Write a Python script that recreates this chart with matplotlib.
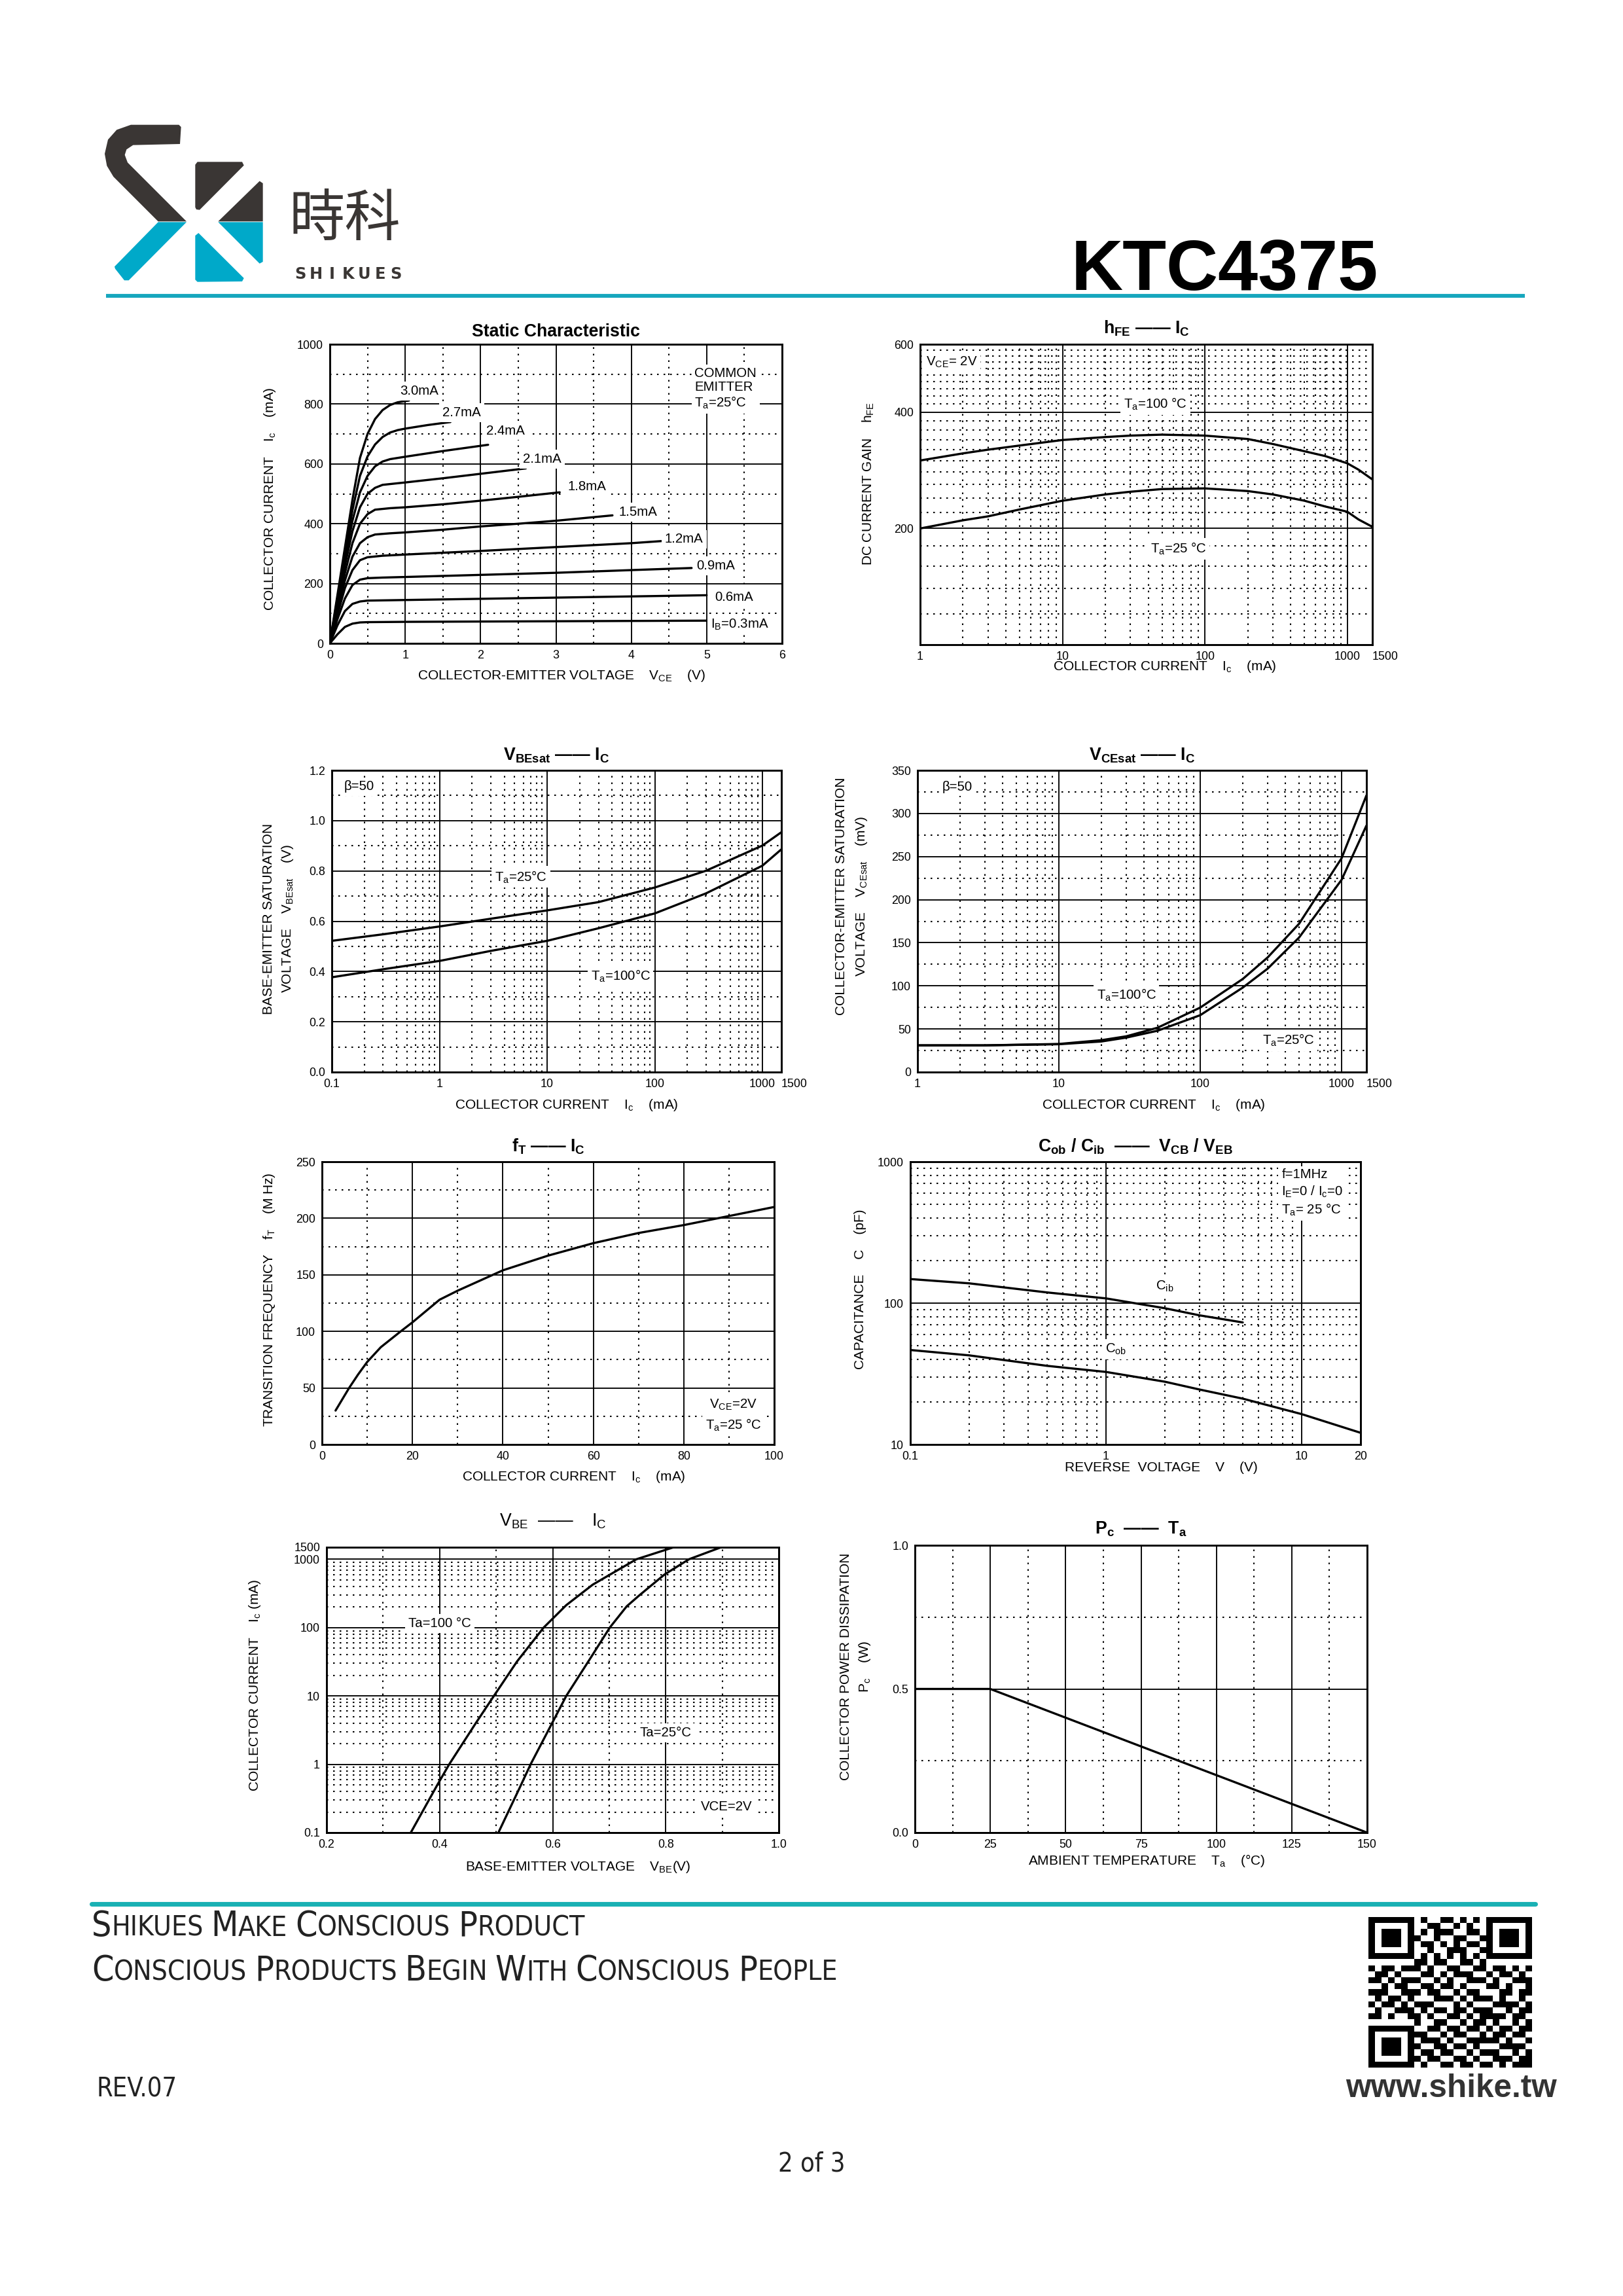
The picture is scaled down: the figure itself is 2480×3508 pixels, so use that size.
import numpy as np
import matplotlib
matplotlib.use('Agg')
import matplotlib.pyplot as plt
from matplotlib import font_manager
from matplotlib.patches import Polygon
from matplotlib.ticker import FixedLocator, FixedFormatter, NullFormatter

W, H, DPI = 2480, 3508, 300

# ======================= DATA =======================
# Static characteristic (common emitter, Ta = 25 C)
static_labels = ['3.0mA', '2.7mA', '2.4mA', '2.1mA', '1.8mA', '1.5mA', '1.2mA',
                 '0.9mA', '0.6mA', r'I$_{\rm B}$=0.3mA']
static_vce = [
    [0, 0.1, 0.2, 0.3, 0.4, 0.5, 0.6, 0.7, 0.8, 0.9, 1.05],
    [0, 0.1, 0.2, 0.3, 0.4, 0.5, 0.6, 0.7, 0.8, 0.9, 1.0, 1.3, 1.6],
    [0, 0.1, 0.2, 0.3, 0.4, 0.5, 0.6, 0.7, 0.8, 1.0, 1.5, 2.1],
    [0, 0.1, 0.2, 0.3, 0.4, 0.5, 0.6, 0.7, 1.0, 1.5, 2.0, 2.6],
    [0, 0.1, 0.2, 0.3, 0.4, 0.5, 0.6, 0.8, 1.0, 1.5, 2.0, 2.5, 3.05],
    [0, 0.1, 0.2, 0.3, 0.4, 0.5, 0.6, 0.8, 1.0, 1.5, 2.0, 2.5, 3.0, 3.75],
    [0, 0.1, 0.2, 0.3, 0.4, 0.5, 0.7, 1.0, 2.0, 3.0, 4.0, 4.4],
    [0, 0.1, 0.2, 0.3, 0.4, 0.5, 0.7, 1.0, 2.0, 3.0, 4.0, 4.8],
    [0, 0.1, 0.2, 0.3, 0.4, 0.5, 1.0, 2.0, 3.0, 4.0, 5.0],
    [0, 0.1, 0.2, 0.3, 0.4, 0.5, 1.0, 2.0, 3.0, 4.0, 5.0],
]
static_ic = [
    [0, 160, 320, 480, 620, 700, 750, 780, 797, 806, 812],
    [0, 150, 300, 445, 560, 625, 665, 690, 705, 713, 718, 730, 740],
    [0, 140, 280, 410, 505, 560, 592, 608, 616, 624, 643, 664],
    [0, 130, 260, 375, 455, 500, 520, 530, 538, 552, 567, 585],
    [0, 120, 235, 335, 400, 432, 447, 452, 455, 465, 477, 490, 505],
    [0, 105, 210, 290, 335, 355, 364, 368, 371, 380, 391, 400, 410, 428],
    [0, 95, 185, 245, 278, 288, 293, 297, 309, 322, 335, 342],
    [0, 80, 150, 195, 213, 218, 220, 222, 229, 236, 245, 252],
    [0, 60, 108, 132, 140, 143, 145, 149, 153, 157, 161],
    [0, 30, 55, 66, 70, 71, 72, 73, 74, 75, 76],
]

# hFE - Ic  (VCE = 2V)
hfe_ic = [1, 2, 3, 5, 10, 20, 30, 50, 100, 200, 300, 500, 700, 1000, 1200, 1500]
hfe_100c = [300, 313, 320, 328, 339, 345, 348, 350, 348, 341, 331, 317, 308, 295, 284, 268]
hfe_25c = [200, 210, 215, 224, 236, 245, 249, 253, 254, 250, 245, 236, 228, 221, 211, 202]

# VBEsat - Ic (beta = 50)
vbesat_ic = [0.1, 0.3, 1, 3, 10, 30, 100, 300, 1000, 1500]
vbesat_25c = [0.522, 0.548, 0.579, 0.610, 0.643, 0.676, 0.734, 0.801, 0.901, 0.954]
vbesat_100c = [0.377, 0.409, 0.442, 0.482, 0.522, 0.572, 0.631, 0.711, 0.821, 0.886]

# VCEsat - Ic (beta = 50), mV
vcesat_ic = [1, 3, 10, 20, 30, 50, 100, 200, 300, 500, 1000, 1500]
vcesat_100c = [31, 31, 32.6, 37, 41.5, 51.5, 74.8, 108, 133, 172, 248, 321]
vcesat_25c = [31, 31, 32.3, 35.5, 40, 48, 66, 98, 120, 156, 223, 286]

# fT - Ic (VCE = 2V, Ta = 25C)
ft_ic = [3, 6, 8, 10, 13, 17.4, 20, 26, 30, 40, 50, 60, 70, 80, 90, 100]
ft_mhz = [30, 50, 62, 73, 86, 100, 108, 128, 136, 154, 167, 178, 187, 194, 202, 210]

# Cob / Cib - V
cib_v = [0.1, 0.2, 0.5, 1, 2, 3, 5]
cib_pf = [148, 138, 119, 108, 92, 82, 73]
cob_v = [0.1, 0.2, 0.5, 1, 2, 3, 5, 10, 20]
cob_pf = [46.6, 42.7, 36.0, 32.6, 27.8, 24.5, 21.1, 16.4, 12.1]

# VBE - Ic (VCE = 2V)
vbe_100c_v = [0.349, 0.396, 0.417, 0.464, 0.496, 0.537, 0.584, 0.624, 0.671, 0.704, 0.748, 0.814]
vbe_100c_ic = [0.1, 0.5, 1, 4, 10, 32, 100, 213, 426, 614, 1000, 1500]
vbe_25c_v = [0.504, 0.542, 0.561, 0.599, 0.624, 0.668, 0.701, 0.731, 0.754, 0.798, 0.841, 0.898]
vbe_25c_ic = [0.1, 0.46, 1, 4, 10, 37, 100, 205, 300, 600, 1000, 1500]

# Pc - Ta
pc_ta = [0, 25, 150]
pc_w = [0.5, 0.5, 0.0]

# Tick labels
static_xticks = [0, 1, 2, 3, 4, 5, 6]
static_yticks = [0, 200, 400, 600, 800, 1000]
hfe_xticks = [1, 10, 100, 1000, 1500]
hfe_yticks = [200, 400, 600]
sat_xticks_be = [0.1, 1, 10, 100, 1000, 1500]
sat_yticks_be = [0.0, 0.2, 0.4, 0.6, 0.8, 1.0, 1.2]
sat_xticks_ce = [1, 10, 100, 1000, 1500]
sat_yticks_ce = [0, 50, 100, 150, 200, 250, 300, 350]
ft_xticks = [0, 20, 40, 60, 80, 100]
ft_yticks = [0, 50, 100, 150, 200, 250]
cap_xticks = [0.1, 1, 10, 20]
cap_yticks = [10, 100, 1000]
vbe_xticks = [0.2, 0.4, 0.6, 0.8, 1.0]
vbe_yticks = [0.1, 1, 10, 100, 1000, 1500]
pc_xticks = [0, 25, 50, 75, 100, 125, 150]
pc_yticks = [0.0, 0.5, 1.0]

# ======================= FONTS =======================
names = {f.name for f in font_manager.fontManager.ttflist}
SANS = 'Liberation Sans' if 'Liberation Sans' in names else 'DejaVu Sans'
NARROW = 'Liberation Sans Narrow' if 'Liberation Sans Narrow' in names else None
plt.rcParams['font.family'] = [SANS, 'DejaVu Sans']
plt.rcParams['mathtext.fontset'] = 'custom'
plt.rcParams['mathtext.rm'] = SANS
plt.rcParams['mathtext.it'] = SANS + ':italic'
plt.rcParams['mathtext.bf'] = SANS + ':bold'
plt.rcParams['mathtext.sf'] = SANS
plt.rcParams['mathtext.default'] = 'rm'

TICK_FS = 4.3
LABEL_FS = 5.0
TITLE_FS = 6.4
ANN_FS = 4.9

fig = plt.figure(figsize=(W / DPI, H / DPI), dpi=DPI)
page = fig.add_axes([0, 0, 1, 1])
page.set_xlim(0, W)
page.set_ylim(H, 0)
page.axis('off')

# ======================= HEADER =======================
DARK = '#3a3634'


def lg(pts):
    return [(140 + x / 3.0, 170 + y / 3.0) for x, y in pts]


BLUE = '#00a9c9'
logo_shapes = [
    (DARK, [(410, 72), (405, 150), (190, 155), (160, 175), (152, 200), (165, 235),
            (435, 505), (305, 505), (100, 300), (70, 250), (60, 195), (75, 130),
            (115, 85), (180, 62), (400, 62)]),
    (BLUE, [(305, 508), (435, 508), (170, 775), (150, 775), (108, 722), (105, 712)]),
    (DARK, [(475, 245), (485, 232), (690, 232), (698, 248), (495, 452), (480, 450), (475, 440)]),
    (DARK, [(580, 505), (770, 320), (785, 330), (785, 505)]),
    (BLUE, [(580, 508), (785, 508), (785, 690), (770, 698)]),
    (BLUE, [(475, 570), (490, 558), (698, 765), (690, 780), (485, 782), (475, 772)]),
]
for col, pts in logo_shapes:
    page.add_patch(Polygon(lg(pts), closed=True, fc=col, ec='none'))

page.text(527, 336, '時科', fontsize=20.5, color=DARK, ha='center', va='center',
          family=['Noto Sans CJK TC', 'Noto Sans CJK SC', 'DejaVu Sans'])
for i, ch in enumerate('SHIKUES'):
    page.text(459 + i * 24.3, 426, ch, fontsize=5.8, fontweight='bold', color=DARK,
              ha='center', va='baseline', family=['DejaVu Sans'])

if NARROW:
    page.text(1640, 443, 'KTC4375', fontsize=31, fontweight='bold', color='black',
              ha='left', va='baseline', family=[NARROW, SANS])
else:
    page.text(1637, 443, 'KTC4375', fontsize=26.3, fontweight='bold', color='black',
              ha='left', va='baseline')
page.plot([162, 2330], [452, 452], color='#16a6bd', lw=1.4, solid_capstyle='butt')

# ======================= CHART HELPERS =======================
SOLID = dict(color='black', linewidth=0.45, linestyle='-')
DOT = dict(color='black', linewidth=0.5, linestyle=(0, (1.2, 3.6)))
CURVE = dict(color='black', lw=0.8, solid_capstyle='round', solid_joinstyle='round')
WHITE = dict(fc='white', ec='none', pad=1.2)


def make_axes(box):
    L, T, R, B = box
    ax = fig.add_axes([L / W, 1 - B / H, (R - L) / W, (B - T) / H])
    for s in ax.spines.values():
        s.set_linewidth(0.7)
        s.set_color('black')
        s.set_zorder(5)
    ax.tick_params(which='both', length=0, labelsize=TICK_FS, pad=2.4, colors='black')
    ax.set_axisbelow(True)
    return ax


def set_ticks(ax, xt, yt, xlab=None, ylab=None):
    ax.xaxis.set_major_locator(FixedLocator(xt))
    ax.yaxis.set_major_locator(FixedLocator(yt))
    ax.xaxis.set_major_formatter(FixedFormatter(xlab if xlab else [f'{v:g}' for v in xt]))
    ax.yaxis.set_major_formatter(FixedFormatter(ylab if ylab else [f'{v:g}' for v in yt]))
    ax.xaxis.set_minor_formatter(NullFormatter())
    ax.yaxis.set_minor_formatter(NullFormatter())


def last_xlabel_left(ax):
    ticks = ax.xaxis.get_major_ticks()
    ticks[-1].label1.set_horizontalalignment('left')
    ticks[-1].label1.set_x(ticks[-1].label1.get_position()[0])


def grid_lines(ax, xminor=None, yminor=None):
    if xminor is not None:
        ax.xaxis.set_minor_locator(FixedLocator(xminor))
    if yminor is not None:
        ax.yaxis.set_minor_locator(FixedLocator(yminor))
    ax.grid(which='major', **SOLID)
    ax.grid(which='minor', **DOT)


def decor(box, title, xlabel, ylabel, t_dy=12, x_dy=50, x_dx=0, y_dx=(90,), y_dy=0,
          bold=True):
    L, T, R, B = box
    cx, cy = (L + R) / 2, (T + B) / 2
    page.text(cx, T - t_dy, title, ha='center', va='baseline', fontsize=TITLE_FS,
              fontweight='bold' if bold else 'normal')
    page.text(cx + x_dx, B + x_dy, xlabel, ha='center', va='center', fontsize=LABEL_FS)
    if isinstance(ylabel, str):
        ylabel = [ylabel]
    for lab, dx in zip(ylabel, y_dx):
        page.text(L - dx, cy + y_dy, lab, ha='center', va='center', rotation=90,
                  fontsize=LABEL_FS)


def log_minor(lo, hi):
    vals = []
    d = 10.0 ** np.floor(np.log10(lo))
    while d < hi:
        for m in range(2, 10):
            v = m * d
            if lo < v < hi:
                vals.append(v)
        d *= 10
    return vals


# ======================= 1: Static characteristic =======================
box1 = (504, 526, 1195, 983)
ax = make_axes(box1)
ax.set_xlim(0, 6)
ax.set_ylim(0, 1000)
set_ticks(ax, static_xticks, static_yticks)
grid_lines(ax, [0.5, 1.5, 2.5, 3.5, 4.5, 5.5], [100, 300, 500, 700, 900])
for v, i in zip(static_vce, static_ic):
    ax.plot(v, i, **CURVE)
lbl_x = [1.19, 1.75, 2.33, 2.82, 3.41, 4.09, 4.70, 5.12, 5.36, 5.44]
lbl_y = [843, 772, 711, 616, 524, 438, 348, 260, 155, 63]
for s, x, y in zip(static_labels, lbl_x, lbl_y):
    ax.text(x, y, s, fontsize=ANN_FS, ha='center', va='center', bbox=WHITE, zorder=4)
ax.text(4.84, 852, 'COMMON\nEMITTER\nT$_{\\rm a}$=25°C', fontsize=ANN_FS, ha='left',
        va='center', linespacing=1.15, bbox=WHITE, zorder=4)
decor(box1, 'Static Characteristic',
      r'COLLECTOR-EMITTER VOLTAGE    V$_{\rm CE}$    (V)',
      r'COLLECTOR CURRENT    I$_{\rm c}$    (mA)', t_dy=12, x_dy=50, x_dx=9,
      y_dx=(92,), y_dy=8)

# ======================= 2: hFE - Ic =======================
box2 = (1406, 526, 2097, 985)
ax = make_axes(box2)
ax.set_xscale('log')
ax.set_yscale('log')
ax.set_xlim(1, 1500)
ax.set_ylim(100, 600)
set_ticks(ax, hfe_xticks, hfe_yticks)
last_xlabel_left(ax)
grid_lines(ax, log_minor(1, 1000),
           [120, 140, 160, 180] + list(range(220, 400, 20)) + list(range(420, 600, 20)))
ax.plot(hfe_ic, hfe_100c, **CURVE)
ax.plot(hfe_ic, hfe_25c, **CURVE)
ax.text(1.1, 540, r'V$_{\rm CE}$= 2V', fontsize=ANN_FS, ha='left', va='center', bbox=WHITE, zorder=4)
ax.text(45, 420, r'T$_{\rm a}$=100 °C', fontsize=ANN_FS, ha='center', va='center', bbox=WHITE, zorder=4)
ax.text(65, 177, r'T$_{\rm a}$=25 °C', fontsize=ANN_FS, ha='center', va='center', bbox=WHITE, zorder=4)
decor(box2, r'h$_{\mathbf{FE}}$ —— I$_{\mathbf{C}}$',
      r'COLLECTOR CURRENT    I$_{\rm c}$    (mA)',
      r'DC CURRENT GAIN    h$_{\rm FE}$', t_dy=16, x_dy=34, x_dx=28, y_dx=(79,), y_dy=-16)

# ======================= 3: VBEsat - Ic =======================
box3 = (507, 1177, 1194, 1638)
ax = make_axes(box3)
ax.set_xscale('log')
ax.set_xlim(0.1, 1500)
ax.set_ylim(0, 1.2)
set_ticks(ax, sat_xticks_be, sat_yticks_be, ylab=[f'{v:.1f}' for v in sat_yticks_be])
last_xlabel_left(ax)
grid_lines(ax, log_minor(0.1, 1000), [0.1, 0.3, 0.5, 0.7, 0.9, 1.1])
ax.plot(vbesat_ic, vbesat_25c, **CURVE)
ax.plot(vbesat_ic, vbesat_100c, **CURVE)
ax.text(0.13, 1.135, 'β=50', fontsize=ANN_FS, ha='left', va='center', bbox=WHITE, zorder=4)
ax.text(5.7, 0.776, r'T$_{\rm a}$=25°C', fontsize=ANN_FS, ha='center', va='center', bbox=WHITE, zorder=4)
ax.text(48, 0.382, r'T$_{\rm a}$=100°C', fontsize=ANN_FS, ha='center', va='center', bbox=WHITE, zorder=4)
decor(box3, r'V$_{\mathbf{BEsat}}$ —— I$_{\mathbf{C}}$',
      r'COLLECTOR CURRENT    I$_{\rm c}$    (mA)',
      ['BASE-EMITTER SATURATION', r'VOLTAGE    V$_{\rm BEsat}$    (V)'],
      t_dy=15, x_dy=50, x_dx=15, y_dx=(97, 68), y_dy=-4)

# ======================= 4: VCEsat - Ic =======================
box4 = (1402, 1177, 2088, 1638)
ax = make_axes(box4)
ax.set_xscale('log')
ax.set_xlim(1, 1500)
ax.set_ylim(0, 350)
set_ticks(ax, sat_xticks_ce, sat_yticks_ce)
last_xlabel_left(ax)
grid_lines(ax, log_minor(1, 1000), [25, 75, 125, 175, 225, 275, 325])
ax.plot(vcesat_ic, vcesat_100c, **CURVE)
ax.plot(vcesat_ic, vcesat_25c, **CURVE)
ax.text(1.5, 331, 'β=50', fontsize=ANN_FS, ha='left', va='center', bbox=WHITE, zorder=4)
ax.text(30, 89, r'T$_{\rm a}$=100°C', fontsize=ANN_FS, ha='center', va='center', bbox=WHITE, zorder=4)
ax.text(420, 37, r'T$_{\rm a}$=25°C', fontsize=ANN_FS, ha='center', va='center', bbox=WHITE, zorder=4)
decor(box4, r'V$_{\mathbf{CEsat}}$ —— I$_{\mathbf{C}}$',
      r'COLLECTOR CURRENT    I$_{\rm c}$    (mA)',
      ['COLLECTOR-EMITTER SATURATION', r'VOLTAGE    V$_{\rm CEsat}$    (mV)'],
      t_dy=15, x_dy=50, x_dx=18, y_dx=(117, 86), y_dy=-38)

# ======================= 5: fT - Ic =======================
box5 = (492, 1775, 1183, 2207)
ax = make_axes(box5)
ax.set_xlim(0, 100)
ax.set_ylim(0, 250)
set_ticks(ax, ft_xticks, ft_yticks)
grid_lines(ax, [10, 30, 50, 70, 90], [25, 75, 125, 175, 225])
ax.plot(ft_ic, ft_mhz, **CURVE)
ax.text(91, 35, r'V$_{\rm CE}$=2V', fontsize=ANN_FS, ha='center', va='center', bbox=WHITE, zorder=4)
ax.text(91, 17, r'T$_{\rm a}$=25 °C', fontsize=ANN_FS, ha='center', va='center', bbox=WHITE, zorder=4)
decor(box5, r'f$_{\mathbf{T}}$ —— I$_{\mathbf{C}}$',
      r'COLLECTOR CURRENT    I$_{\rm c}$    (mA)',
      r'TRANSITION FREQUENCY    f$_{\rm T}$    (M Hz)', t_dy=15, x_dy=50, x_dx=39,
      y_dx=(81,), y_dy=-5)

# ======================= 6: Cob/Cib - V =======================
box6 = (1391, 1775, 2079, 2207)
ax = make_axes(box6)
ax.set_xscale('log')
ax.set_yscale('log')
ax.set_xlim(0.1, 20)
ax.set_ylim(10, 1000)
set_ticks(ax, cap_xticks, cap_yticks)
grid_lines(ax, log_minor(0.1, 10), log_minor(10, 1000))
ax.plot(cib_v, cib_pf, **CURVE)
ax.plot(cob_v, cob_pf, **CURVE)
ax.text(2.0, 131, r'C$_{\rm ib}$', fontsize=ANN_FS, ha='center', va='center', bbox=WHITE, zorder=4)
ax.text(1.12, 47, r'C$_{\rm ob}$', fontsize=ANN_FS, ha='center', va='center', bbox=WHITE, zorder=4)
ax.text(7.9, 600, 'f=1MHz\n' + r'I$_{\rm E}$=0 / I$_{\rm c}$=0' + '\n' + r'T$_{\rm a}$= 25 °C',
        fontsize=ANN_FS, ha='left', va='center', linespacing=1.3, bbox=WHITE, zorder=4)
decor(box6, r'C$_{\mathbf{ob}}$ / C$_{\mathbf{ib}}$  ——  V$_{\mathbf{CB}}$ / V$_{\mathbf{EB}}$',
      r'REVERSE  VOLTAGE    V    (V)',
      r'CAPACITANCE    C    (pF)', t_dy=16, x_dy=35, x_dx=39, y_dx=(77,), y_dy=-21)

# ======================= 7: VBE - Ic =======================
box7 = (499, 2364, 1190, 2800)
ax = make_axes(box7)
ax.set_yscale('log')
ax.set_xlim(0.2, 1.0)
ax.set_ylim(0.1, 1500)
set_ticks(ax, vbe_xticks, vbe_yticks, xlab=[f'{v:.1f}' for v in vbe_xticks])
grid_lines(ax, [0.3, 0.5, 0.7, 0.9], log_minor(0.1, 1000))
ax.plot(vbe_100c_v, vbe_100c_ic, **CURVE)
ax.plot(vbe_25c_v, vbe_25c_ic, **CURVE)
ax.text(0.40, 114, 'Ta=100 °C', fontsize=ANN_FS, ha='center', va='center', bbox=WHITE, zorder=4)
ax.text(0.80, 2.9, 'Ta=25°C', fontsize=ANN_FS, ha='center', va='center', bbox=WHITE, zorder=4)
ax.text(0.908, 0.24, 'VCE=2V', fontsize=ANN_FS, ha='center', va='center', bbox=WHITE, zorder=4)
decor(box7, r'V$_{\rm BE}$  ——    I$_{\rm C}$',
      r'BASE-EMITTER VOLTAGE    V$_{\rm BE}$(V)',
      r'COLLECTOR CURRENT    I$_{\rm c}$ (mA)', t_dy=33, x_dy=52, x_dx=39,
      y_dx=(110,), y_dy=-7, bold=False)

# ======================= 8: Pc - Ta =======================
box8 = (1398, 2361, 2089, 2800)
ax = make_axes(box8)
ax.set_xlim(0, 150)
ax.set_ylim(0, 1.0)
set_ticks(ax, pc_xticks, pc_yticks, ylab=[f'{v:.1f}' for v in pc_yticks])
grid_lines(ax, [12.5, 37.5, 62.5, 87.5, 112.5, 137.5], [0.25, 0.75])
ax.plot(pc_ta, pc_w, **CURVE)
decor(box8, r'P$_{\mathbf{c}}$  ——  T$_{\mathbf{a}}$',
      r'AMBIENT TEMPERATURE    T$_{\rm a}$    (°C)',
      ['COLLECTOR POWER DISSIPATION', r'P$_{\rm c}$    (W)'], t_dy=18, x_dy=43, x_dx=9,
      y_dx=(106, 77), y_dy=-34)

# ======================= FOOTER =======================
page.plot([140, 2346], [2909, 2909], color='#1ab1b4', lw=1.7, solid_capstyle='round')

renderer = fig.canvas.get_renderer()
FOOT_FAM = ['DejaVu Sans']


def small_caps(x, y, text, big, small):
    cx = x
    for wi, word in enumerate(text.split(' ')):
        if wi > 0:
            cx += small * 300 / 72 * 0.28
        pieces = [(word[0], big), (word[1:].upper(), small)]
        for s, fs in pieces:
            if not s:
                continue
            t = page.text(cx, y, s, fontsize=fs, ha='left', va='baseline', color='#222222',
                          family=FOOT_FAM, fontstretch='condensed')
            bb = t.get_window_extent(renderer)
            cx += bb.width


small_caps(140, 2958, 'Shikues Make Conscious Product', 12.8, 10.2)
small_caps(140, 3026, 'Conscious Products Begin With Conscious People', 12.8, 10.2)

page.text(147, 3204, 'REV.07', fontsize=9.5, ha='left', va='baseline', color='#222222',
          family=FOOT_FAM, fontstretch='condensed')
page.text(2218, 3204, 'www.shike.tw', fontsize=11.9, ha='center', va='baseline',
          color='#333333', fontweight='bold')
page.text(1240, 3318, '2 of 3', fontsize=9.5, ha='center', va='baseline', color='#222222',
          family=FOOT_FAM, fontstretch='condensed')

qr_rows = [
    "1111111010011010101111111",
    "1000001001100101001000001",
    "1011101010111001101011101",
    "1011101100100110011011101",
    "1011101011010101101011101",
    "1000001001001110011000001",
    "1111111010101010101111111",
    "0000000110110011010000000",
    "1011011101001100110110101",
    "0110100011010111001011010",
    "1101011100101001110100111",
    "0010110011011010001101001",
    "1110011101100101100011011",
    "0101101000111010111010010",
    "1011010111000101000111101",
    "0100111010110110111001011",
    "1101001101001101011110110",
    "0000000100110010110100101",
    "1111111001101101101011011",
    "1000001110010110010110110",
    "1011101011101001111101001",
    "1011101100110110100011110",
    "1011101011011001011100101",
    "1000001101100110100111011",
    "1111111010011011011010111",
]
qr = np.array([[int(c) for c in r] for r in qr_rows])
page.imshow(qr, cmap='gray_r', extent=(2091, 2341, 3159, 2929), interpolation='nearest',
            aspect='auto', vmin=0, vmax=1)
page.set_xlim(0, W)
page.set_ylim(H, 0)

fig.savefig('out.png', dpi=DPI)
